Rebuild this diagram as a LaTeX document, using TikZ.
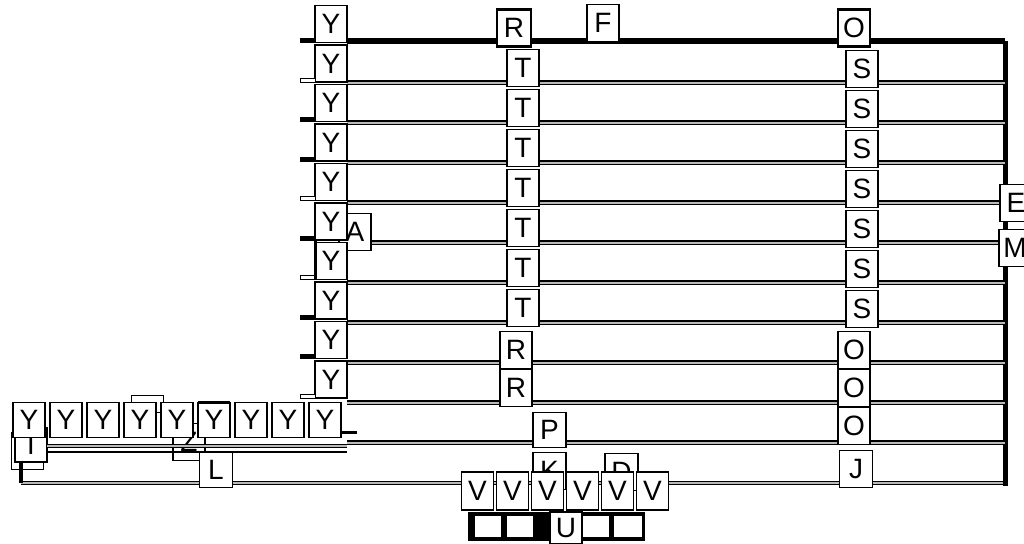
\documentclass[tikz,border=0pt]{standalone}
\usepackage{fontspec}
\setmainfont{Liberation Sans}
\usetikzlibrary{positioning}

\begin{document}
\begin{tikzpicture}[x=1pt, y=-1pt, font=\fontsize{28}{28}\selectfont,
  cell/.style={draw, fill=white, line width=1.1pt, inner sep=0pt, outer sep=0pt,
               minimum width=32pt, minimum height=37pt},
  hcell/.style={cell, line width=2.2pt},
  bus/.style={draw, line width=1.4pt, double=gray!55, double distance=2pt},
  stubf/.style={draw, fill=black, line width=0.8pt},
  stubh/.style={draw, fill=white, line width=1pt}]
\useasboundingbox (0,0) rectangle (1024,543);

% frame and rails
\coordinate (ne) at (1005,41);
\coordinate (se) at (1005,483);
\coordinate (sw) at (21,483);
\node[cell] (y1) at (331,24) {Y};
\draw[bus] (sw) -- (se);
\draw[line width=6pt] (y1.east |- ne) -- (ne);
\draw[line width=5pt] (ne) -- ([yshift=-2.5pt]se);
\draw[bus] (347,82.5) -- (ne |- 0,82.5);
\draw[bus] (347,122.5) -- (ne |- 0,122.5);
\draw[bus] (347,162.5) -- (ne |- 0,162.5);
\draw[bus] (347,202.5) -- (ne |- 0,202.5);
\draw[bus] (347,242.5) -- (ne |- 0,242.5);
\draw[bus] (347,282.5) -- (ne |- 0,282.5);
\draw[bus] (347,322.5) -- (ne |- 0,322.5);
\draw[bus] (347,362.5) -- (ne |- 0,362.5);
\draw[bus] (347,402.5) -- (ne |- 0,402.5);
\draw[bus] (347,442.5) -- (ne |- 0,442.5);

% parts sitting behind others
\node[cell] (amp) at (355,232) {A};
\draw[line width=1pt] (11,432) rectangle (43,469);
\node[cell, minimum height=34pt] (tee) at (31,445) {T};
\node[cell] (zed) at (189,442) {Z};
\node[cell, minimum width=33pt] (kay) at (549.5,471) {K};
\node[cell, minimum width=33pt] (dee) at (621.5,472) {D};
\draw[line width=1pt] (131,395) rectangle (163,412);
\draw[bus] (tee.east |- 0,446) -- (347,446);
\draw[line width=2pt] (tee.east |- 0,452) -- (347,452);
\draw[line width=4pt] (tee.south -| sw) -- (sw);

% left column
\node[cell, below=2.5pt of y1] (y2) {Y};
\node[cell, below=2.5pt of y2] (y3) {Y};
\node[cell, below=2.5pt of y3] (y4) {Y};
\node[cell, below=2.5pt of y4] (y5) {Y};
\node[cell, below=2.5pt of y5] (y6) {Y};
\node[cell, below=2.5pt of y6] (y7) {Y};
\node[cell, below=2.5pt of y7] (y8) {Y};
\node[cell, below=2.5pt of y8] (y9) {Y};
\node[cell, below=2.5pt of y9] (y10) {Y};
\draw[stubf] (y1.south west) rectangle ++(-15,-4);
\draw[stubh] (y2.south west) rectangle ++(-15,-4);
\draw[stubf] (y3.south west) rectangle ++(-15,-4);
\draw[stubf] (y4.south west) rectangle ++(-15,-4);
\draw[stubh] (y5.south west) rectangle ++(-15,-4);
\draw[stubf] (y6.south west) rectangle ++(-15,-4);
\draw[stubh] (y7.south west) rectangle ++(-15,-4);
\draw[stubf] (y8.south west) rectangle ++(-15,-4);
\draw[stubf] (y9.south west) rectangle ++(-15,-4);
\draw[stubh] (y10.south west) rectangle ++(-15,-4);
\draw[line width=3pt] (y6.south west) -- (y7.south west);

% bottom row
\node[cell, minimum height=35pt] (yb1) at (29,420) {Y};
\node[cell, minimum height=35pt, right=5pt of yb1] (yb2) {Y};
\node[cell, minimum height=35pt, right=5pt of yb2] (yb3) {Y};
\node[cell, minimum height=35pt, right=5pt of yb3] (yb4) {Y};
\node[cell, minimum height=35pt, right=5pt of yb4] (yb5) {Y};
\node[cell, minimum height=35pt, right=5pt of yb5] (yb6) {Y};
\node[cell, minimum height=35pt, right=5pt of yb6] (yb7) {Y};
\node[cell, minimum height=35pt, right=5pt of yb7] (yb8) {Y};
\node[cell, minimum height=35pt, right=5pt of yb8] (yb9) {Y};
\draw[line width=2.5pt] (yb6.north west) -- (yb6.north east);
\draw[line width=3pt] (yb9.east |- 0,432) -- ++(16,0);
\node[cell, minimum width=33pt, minimum height=35pt] (ell) at (216,470) {L};

% middle column
\node[hcell, minimum width=34pt] (rtop) at (514,28) {R};
\node[cell] (t1) at (523,68) {T};
\node[cell, below=3pt of t1] (t2) {T};
\node[cell, below=3pt of t2] (t3) {T};
\node[cell, below=3pt of t3] (t4) {T};
\node[cell, below=3pt of t4] (t5) {T};
\node[cell, below=3pt of t5] (t6) {T};
\node[cell, below=3pt of t6] (t7) {T};
\node[cell] (r1) at (516,350) {R};
\node[cell, below=1pt of r1] (r2) {R};
\node[cell, minimum width=33pt, minimum height=35pt] (pee) at (549.5,430) {P};
\node[cell] (eff) at (603,23) {F};

% right column
\node[hcell] (otop) at (854,28) {O};
\node[cell] (s1) at (862,69) {S};
\node[cell, below=3pt of s1] (s2) {S};
\node[cell, below=3pt of s2] (s3) {S};
\node[cell, below=3pt of s3] (s4) {S};
\node[cell, below=3pt of s4] (s5) {S};
\node[cell, below=3pt of s5] (s6) {S};
\node[cell, below=3pt of s6] (s7) {S};
\node[cell] (o2) at (854,350) {O};
\node[cell, below=1pt of o2] (o3) {O};
\node[cell, below=1pt of o3] (o4) {O};
\node[cell, minimum width=33pt] (jay) at (856,469) {J};
\node[cell] (ebox) at (1016,203) {E};
\node[cell] (mbox) at (1015,248) {M};

% valve row
\fill (468,512) rectangle (645,541);
\node[fill=white, minimum width=26pt, minimum height=21pt, inner sep=0pt] (e1) at (488,526.5) {};
\node[fill=white, minimum width=26pt, minimum height=21pt, inner sep=0pt] (e2) at (520,526.5) {};
\node[fill=white, minimum width=26pt, minimum height=21pt, inner sep=0pt] (e3) at (596,526.5) {};
\node[fill=white, minimum width=28pt, minimum height=21pt, inner sep=0pt] (e4) at (627.5,526.5) {};
\node[cell, minimum height=32pt] (you) at (566,528) {U};
\node[cell, minimum height=38pt] (v1) at (477.5,491) {V};
\node[cell, minimum height=38pt, right=3pt of v1] (v2) {V};
\node[cell, minimum height=38pt, right=3pt of v2] (v3) {V};
\node[cell, minimum height=38pt, right=3pt of v3] (v4) {V};
\node[cell, minimum height=38pt, right=3pt of v4] (v5) {V};
\node[cell, minimum height=38pt, right=3pt of v5] (v6) {V};
\end{tikzpicture}
\end{document}
